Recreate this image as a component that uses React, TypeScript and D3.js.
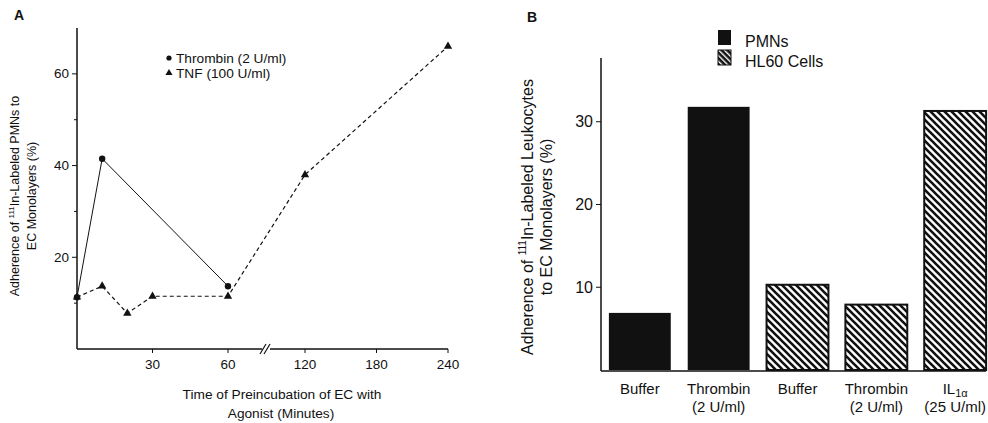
import React from 'react';
import * as d3 from 'd3';

// panel A data (minutes, % adherence)
const thrombinTimes = [0, 10, 60];
const thrombinValues = [11.3, 41.5, 13.7];
const tnfTimes = [0, 10, 20, 30, 60, 120, 240];
const tnfValues = [11.3, 13.7, 7.8, 11.5, 11.5, 38, 66];
const xTicksA = [30, 60, 120, 180, 240];
const yTicksA = [20, 40, 60];
const yMinorA = [10, 30, 50];

// panel B data
const barLabels = ['Buffer', 'Thrombin', 'Buffer', 'Thrombin', 'IL1a'];
const barSubLabels = ['', '(2 U/ml)', '', '(2  U/ml)', '(25 U/ml)'];
const barCells = ['PMNs', 'PMNs', 'HL60 Cells', 'HL60 Cells', 'HL60 Cells'];
const barValues = [6.9, 31.8, 10.3, 7.9, 31.3];
const yTicksB = [10, 20, 30];

const font = 'Liberation Sans, Arial, sans-serif';

const App = () => {
  // A scales: broken x axis between 60 and 120
  const xA = d3.scaleLinear().domain([0, 60, 120, 240]).range([77, 228, 305, 448]);
  const yA = d3.scaleLinear().domain([0, 70]).range([349, 28]);
  const thrombinPath = d3.line<[number, number]>().x(d => xA(d[0])).y(d => yA(d[1]))(
    thrombinTimes.map((t, i) => [t, thrombinValues[i]])
  );
  const tnfPath = d3.line<[number, number]>().x(d => xA(d[0])).y(d => yA(d[1]))(
    tnfTimes.map((t, i) => [t, tnfValues[i]])
  );
  const tri = d3.symbol().type(d3.symbolTriangle).size(30)();

  // B scales
  const xB = d3.scaleBand<number>()
    .domain(barValues.map((_, i) => i))
    .range([601, 994])
    .paddingInner(0.215)
    .paddingOuter(0.1);
  const yB = d3.scaleLinear().domain([0, 37.7]).range([370, 58]);

  return <svg width={988} height={423} style={{ position: 'absolute', left: 0, top: 0, background: '#fff' }}
    fontFamily={font}>
    <defs>
      {/* diagonal stripes, 7px horizontal period */}
      <pattern id='hatch' patternUnits='userSpaceOnUse' width={7} height={7}>
        <rect x={0} y={0} width={7} height={7} fill='#fff' />
        <path d='M-1,-1 L8,8 M-1,6 L1,8 M6,-1 L8,1' stroke='#111' strokeWidth={2.6} />
      </pattern>
      <pattern id='hatchLegend' patternUnits='userSpaceOnUse' width={4} height={4} patternTransform='rotate(-45)'>
        <rect x={0} y={0} width={4} height={4} fill='#111' />
        <rect x={0} y={0} width={1.4} height={4} fill='#fff' />
      </pattern>
    </defs>

    {/* Panel A */}
    <text x={14} y={20} fontSize={14} fontWeight='bold' fill='#111'>A</text>
    <g className='axisA'>
      <line x1={77} x2={77} y1={28} y2={349} stroke='#111' strokeWidth={1.5} />
      <line x1={77} x2={xA(240)} y1={349} y2={349} stroke='#111' strokeWidth={1.5} />
      {yTicksA.map(t => <g key={t}>
        <line x1={72} x2={77} y1={yA(t)} y2={yA(t)} stroke='#111' />
        <text x={69} y={yA(t)} textAnchor='end' dominantBaseline='central' fontSize={13.5} fill='#111'>{t}</text>
      </g>)}
      {yMinorA.map(t => <line key={t} x1={74} x2={77} y1={yA(t)} y2={yA(t)} stroke='#111' />)}
      {xTicksA.map(t => <g key={t}>
        <line x1={xA(t)} x2={xA(t)} y1={349} y2={353} stroke='#111' />
        <text x={xA(t)} y={369} textAnchor='middle' fontSize={13.5} fill='#111'>{t}</text>
      </g>)}
      {/* axis break */}
      <rect x={262} y={345} width={8} height={8} fill='#fff' />
      <line x1={260} x2={266} y1={354} y2={344} stroke='#111' strokeWidth={1.2} />
      <line x1={264} x2={270} y1={354} y2={344} stroke='#111' strokeWidth={1.2} />
    </g>
    <g transform='translate(15,196) rotate(-90)'>
      <text x={0} y={0} textAnchor='middle' dominantBaseline='central' fontSize={12.5} fill='#111'>
        Adherence of <tspan fontSize={8} dy={-4}>111</tspan><tspan dy={4}>In-Labeled PMNs to</tspan>
      </text>
      <text x={0} y={17} textAnchor='middle' dominantBaseline='central' fontSize={12.5} fill='#111'>EC Monolayers (%)</text>
    </g>
    <text x={282} y={399} textAnchor='middle' fontSize={13.7} fill='#111'>Time of Preincubation of EC with</text>
    <text x={281} y={418} textAnchor='middle' fontSize={13.7} fill='#111'>Agonist (Minutes)</text>

    <path d={thrombinPath || ''} fill='none' stroke='#111' strokeWidth={1} />
    <path d={tnfPath || ''} fill='none' stroke='#111' strokeWidth={1.2} strokeDasharray='4,3' />
    {thrombinTimes.map((t, i) => <circle key={t} cx={xA(t)} cy={yA(thrombinValues[i])} r={3.2} fill='#111' />)}
    {tnfTimes.map((t, i) => <path key={t} d={tri || ''} transform={`translate(${xA(t)},${yA(tnfValues[i])})`} fill='#111' />)}

    {/* legend A */}
    <circle cx={169} cy={58} r={2.6} fill='#111' />
    <text x={176} y={58} dominantBaseline='central' fontSize={13.7} fill='#111'>Thrombin (2 U/ml)</text>
    <path d={d3.symbol().type(d3.symbolTriangle).size(22)() || ''} transform='translate(169,73)' fill='#111' />
    <text x={176} y={73} dominantBaseline='central' fontSize={13.7} fill='#111'>TNF (100 U/ml)</text>

    {/* Panel B */}
    <text x={527} y={22} fontSize={14} fontWeight='bold' fill='#111'>B</text>
    {barValues.map((v, i) => <rect key={i}
      x={xB(i)} y={yB(v)} width={xB.bandwidth()} height={yB(0) - yB(v)}
      fill={barCells[i] === 'PMNs' ? '#111' : 'url(#hatch)'}
      stroke='#111' strokeWidth={barCells[i] === 'PMNs' ? 0 : 2} />)}
    <line x1={601} x2={601} y1={58} y2={371} stroke='#111' strokeWidth={1.5} />
    <line x1={601} x2={xB(4)! + xB.bandwidth()} y1={371} y2={371} stroke='#111' strokeWidth={1.5} />
    {yTicksB.map(t => <g key={t}>
      <line x1={596} x2={601} y1={yB(t)} y2={yB(t)} stroke='#111' />
      <text x={593} y={yB(t)} textAnchor='end' dominantBaseline='central' fontSize={16} fill='#111'>{t}</text>
    </g>)}
    {barLabels.map((l, i) => {
      const cx = xB(i)! + xB.bandwidth() / 2;
      return <g key={i}>
        {l === 'IL1a'
          ? <text x={cx} y={394} textAnchor='middle' fontSize={15} fill='#111'>IL<tspan fontSize={11} dy={3}>1α</tspan></text>
          : <text x={cx} y={394} textAnchor='middle' fontSize={15} fill='#111'>{l}</text>}
        <text x={cx} y={412} textAnchor='middle' fontSize={15} fill='#111'>{barSubLabels[i]}</text>
      </g>;
    })}
    <g transform='translate(527,217) rotate(-90)'>
      <text x={0} y={0} textAnchor='middle' dominantBaseline='central' fontSize={16} fill='#111'>
        Adherence of <tspan fontSize={10} dy={-5}>111</tspan><tspan dy={5}>In-Labeled Leukocytes</tspan>
      </text>
      <text x={0} y={19} textAnchor='middle' dominantBaseline='central' fontSize={16} fill='#111'>to EC Monolayers (%)</text>
    </g>

    {/* legend B */}
    <rect x={718} y={30} width={13} height={15} fill='#111' />
    <rect x={718} y={50} width={13} height={15} fill='url(#hatchLegend)' stroke='#111' strokeWidth={1} />
    <text x={745} y={41} dominantBaseline='central' fontSize={16} fill='#111'>PMNs</text>
    <text x={745} y={61} dominantBaseline='central' fontSize={16} fill='#111'>HL60 Cells</text>
  </svg>;
};

export default App;
